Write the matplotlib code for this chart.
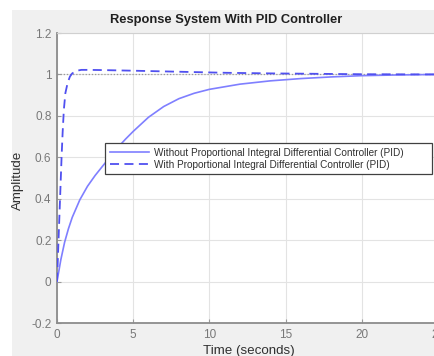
import matplotlib
matplotlib.use("Agg")
import matplotlib.pyplot as plt
from matplotlib.patches import Rectangle

# ---- data ----
t_without = [0, 0.25, 0.5, 0.75, 1.0, 1.5, 2.0, 2.5, 3.0, 3.5, 4.0, 4.5, 5.0, 6.0, 7.0, 8.0,
             9.0, 10.0, 12.0, 14.0, 16.0, 18.0, 20.0, 22.0, 25.0]
y_without = [0, 0.105, 0.19, 0.255, 0.31, 0.395, 0.46, 0.512, 0.558, 0.603, 0.648, 0.688, 0.725,
             0.793, 0.845, 0.883, 0.909, 0.928, 0.953, 0.969, 0.98, 0.988, 0.994, 0.997, 1.0]

t_with = [0, 0.05, 0.1, 0.15, 0.2, 0.25, 0.3, 0.37, 0.45, 0.55, 0.7, 0.85, 1.0, 1.3, 1.6,
          2.0, 3.0, 5.0, 8.0, 11.0, 14.0, 17.0, 20.0, 25.0]
y_with = [0, 0.1, 0.2, 0.3, 0.4, 0.5, 0.6, 0.72, 0.83, 0.91, 0.96, 0.99, 1.005, 1.018, 1.022,
          1.022, 1.021, 1.018, 1.013, 1.008, 1.005, 1.003, 1.001, 1.0]

steady_t = [0, 25]
steady_y = [1, 1]

x_ticks = [0, 5, 10, 15, 20, 25]
x_ticklabels = ["0", "5", "10", "15", "20", "25"]
y_ticks = [-0.2, 0, 0.2, 0.4, 0.6, 0.8, 1.0, 1.2]
y_ticklabels = ["-0.2", "0", "0.2", "0.4", "0.6", "0.8", "1", "1.2"]

title = "Response System With PID Controller"
xlabel = "Time (seconds)"
ylabel = "Amplitude"
labels = ["Without Proportional Integral Differential Controller (PID)",
          "With Proportional Integral Differential Controller (PID)"]

plt.rcParams['font.family'] = ['Liberation Sans', 'DejaVu Sans']

W, H = 435, 356
fig = plt.figure(figsize=(W / 100, H / 100), dpi=100)
fig.patch.set_facecolor("white")
fig.patches.append(Rectangle((12 / W, 0), 1, (H - 10) / H, transform=fig.transFigure,
                             facecolor="#f0f0f0", edgecolor="none", zorder=-10))

ax_l, ax_r, ax_t, ax_b = 57, 438, 33, 323
ax = fig.add_axes([ax_l / W, (H - ax_b) / H, (ax_r - ax_l) / W, (ax_b - ax_t) / H])
ax.set_zorder(1)
ax.set_facecolor("white")

ax.plot(steady_t, steady_y, linestyle=(0, (1, 1.5)), color="#9a9a9a", lw=0.9, zorder=2)
ax.plot(t_without, y_without, color="#7f7fff", lw=1.2, label=labels[0], zorder=3)
ax.plot(t_with, y_with, color="#5050f0", lw=1.3, linestyle=(0, (5, 3)), label=labels[1], zorder=3)

ax.set_xlim(0, 25)
ax.set_ylim(-0.2, 1.2)
ax.set_xticks(x_ticks)
ax.set_xticklabels(x_ticklabels)
ax.set_yticks(y_ticks)
ax.set_yticklabels(y_ticklabels)
ax.tick_params(direction="in", length=3, width=0.8, colors="#9a9a9a",
               labelcolor="#787878", labelsize=8.5, pad=4)
ax.grid(True, color="#e3e3e3", lw=0.8)
ax.set_axisbelow(True)

for s in ["left", "bottom"]:
    ax.spines[s].set_color("#8c8c8c")
    ax.spines[s].set_linewidth(1.3)
ax.spines["top"].set_color("#d0d0d0")
ax.spines["top"].set_linewidth(0.8)
ax.spines["right"].set_visible(False)

fig.text(226 / W, 1 - 20 / H, title, ha="center", va="center", fontsize=9.3,
         fontweight="bold", color="#202020")
fig.text(249 / W, 1 - 351 / H, xlabel, ha="center", va="center", fontsize=9.6, color="#303030")
fig.text(18 / W, 1 - 180 / H, ylabel, ha="center", va="center", rotation=90,
         fontsize=9.6, color="#303030")

leg = ax.legend(loc="lower left", bbox_to_anchor=((105 - ax_l) / (ax_r - ax_l),
                                                   (ax_b - 174) / (ax_b - ax_t),
                                                   (432 - 105) / (ax_r - ax_l), 0.11),
                mode="expand", fontsize=7.2, frameon=True, fancybox=False, shadow=False,
                handlelength=3.9, handletextpad=0.5, borderpad=0.45, labelspacing=0.2,
                borderaxespad=0)
leg.get_frame().set_edgecolor("#404040")
leg.get_frame().set_linewidth(0.9)
leg.get_frame().set_facecolor("white")
leg.get_frame().set_alpha(1)
for txt in leg.get_texts():
    txt.set_color("#303030")

fig.savefig("out.png", dpi=100, facecolor=fig.get_facecolor())
